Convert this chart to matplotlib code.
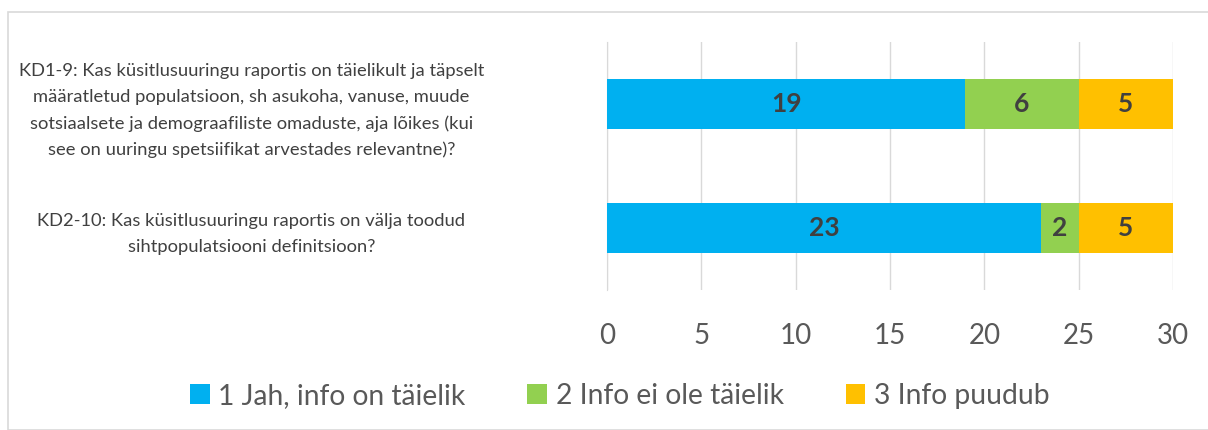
import matplotlib
matplotlib.use("Agg")
import matplotlib.pyplot as plt
from matplotlib.patches import Rectangle
import numpy as np

plt.rcParams['font.family'] = ['Lato', 'DejaVu Sans']

# data
questions = [
    "KD1-9: Kas küsitlusuuringu raportis on täielikult ja täpselt\n"
    "määratletud populatsioon, sh asukoha, vanuse, muude\n"
    "sotsiaalsete ja demograafiliste omaduste, aja lõikes (kui\n"
    "see on uuringu spetsiifikat arvestades relevantne)?",
    "KD2-10: Kas küsitlusuuringu raportis on välja toodud\n"
    "sihtpopulatsiooni definitsioon?",
]
series_names = ["1 Jah, info on täielik", "2 Info ei ole täielik", "3 Info puudub"]
jah = [19, 23]
ei_taielik = [6, 2]
puudub = [5, 5]
colors = ["#00B0F0", "#92D050", "#FFC000"]
x_ticks = [0, 5, 10, 15, 20, 25, 30]

fig = plt.figure(figsize=(12.08, 4.30), dpi=100)
ax = fig.add_axes([0.5025, 0.326, 0.4685, 0.576])

# chart border
fig.patches.append(Rectangle((8 / 1208, 0), 1.0, 1 - 12 / 430, transform=fig.transFigure,
                             fill=False, edgecolor="#D9D9D9", linewidth=1.2))

y = np.arange(len(questions))
left = np.zeros(len(questions))
for vals, name, c in zip([jah, ei_taielik, puudub], series_names, colors):
    bars = ax.barh(y, vals, height=0.4, left=left, color=c, label=name, zorder=3)
    for b, v in zip(bars, vals):
        ax.text(b.get_x() + b.get_width() / 2, b.get_y() + b.get_height() / 2, str(v),
                ha="center", va="center", fontsize=19, fontweight="bold", color="#404040", zorder=4)
    left += np.array(vals)

ax.set_xlim(0, 30)
ax.set_ylim(-0.5, 1.5)
ax.invert_yaxis()
ax.set_xticks(x_ticks)
ax.xaxis.grid(True, color="#D9D9D9", linewidth=1, zorder=0)
ax.tick_params(axis="x", length=0, labelsize=20, colors="#595959", pad=24)
ax.tick_params(axis="y", length=0)
ax.set_yticks(y)
ax.set_yticklabels(questions, fontsize=13.2, color="#404040", ha="center",
                   multialignment="center", linespacing=1.75)
for lbl in ax.get_yticklabels():
    lbl.set_x(-0.62)
for s in ["top", "right", "bottom"]:
    ax.spines[s].set_visible(False)
ax.spines["left"].set_color("#D9D9D9")

fig.legend(loc="center", bbox_to_anchor=(0.513, 0.08), ncol=3, frameon=False,
           fontsize=20.3, handlelength=0.7, handleheight=0.7, handletextpad=0.3,
           columnspacing=2.2, labelcolor="#595959")

fig.savefig("out.png", dpi=100)
